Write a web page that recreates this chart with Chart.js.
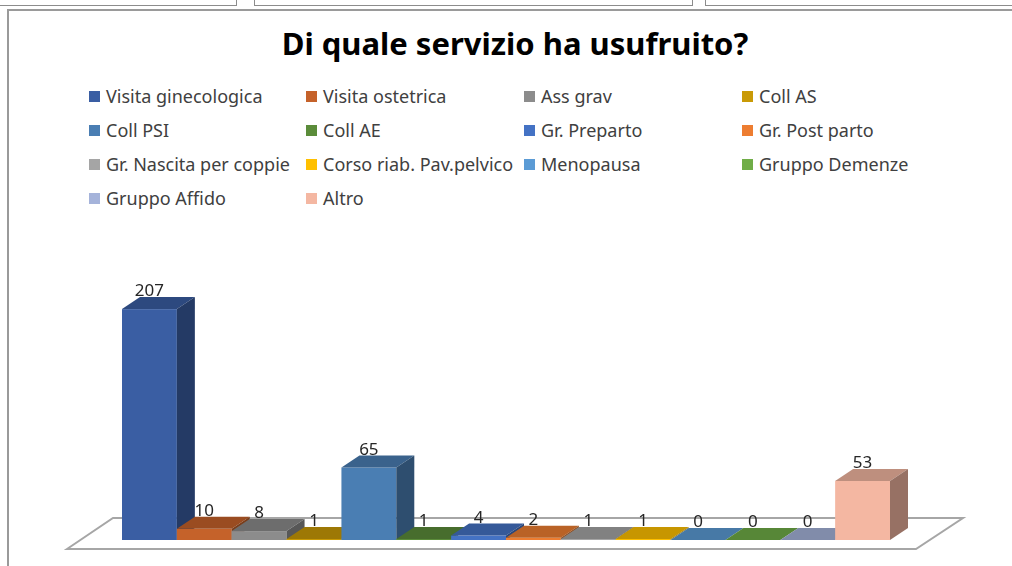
<!DOCTYPE html>
<html>
<head>
<meta charset="utf-8">
<script src="https://cdn.jsdelivr.net/npm/chart.js@4/dist/chart.umd.min.js"></script>
<style>
  body { margin: 0; width: 1012px; height: 566px; overflow: hidden; background: #fff; font-family: "Noto Sans", sans-serif; }
  .strip { position: absolute; top: -10px; height: 14px; border: 1px solid #8c8c8c; }
  #frame { position: absolute; left: 7px; top: 9px; width: 1020px; height: 600px; border: 2px solid #9a9a9a; }
  #title { position: absolute; left: 0; width: 1030px; top: 22px; text-align: center; font-weight: bold; font-size: 31px; color: #000; }
  .leg { position: absolute; font-size: 18px; color: #404040; white-space: nowrap; line-height: 22px; }
  .leg span { display: inline-block; width: 11px; height: 11px; margin-right: 6px; vertical-align: 1px; }
  #c { position: absolute; left: 0; top: 0; }
</style>
</head>
<body>
<div class="strip" style="left:-2px;width:237px"></div>
<div class="strip" style="left:254px;width:437px"></div>
<div class="strip" style="left:705px;width:320px"></div>
<div id="frame"></div>
<div id="title">Di quale servizio ha usufruito?</div>
<div id="legend"></div>
<canvas id="c" width="1012" height="566"></canvas>
<script>
const labels = ['Visita ginecologica', 'Visita ostetrica', 'Ass grav', 'Coll AS', 'Coll PSI', 'Coll AE',
  'Gr. Preparto', 'Gr. Post parto', 'Gr. Nascita per coppie', 'Corso riab. Pav.pelvico', 'Menopausa',
  'Gruppo Demenze', 'Gruppo Affido', 'Altro'];
const values = [207, 10, 8, 1, 65, 1, 4, 2, 1, 1, 0, 0, 0, 53];
const colors = ['#3a5ea3', '#c5622a', '#8c8c8c', '#c99a06', '#4a7eb3', '#5b8c3a', '#4472c4',
  '#ed7d31', '#a5a5a5', '#ffc000', '#5b9bd5', '#70ad47', '#a5b3da', '#f4b7a2'];

// legend: 4 columns, html
const colX = [89, 306, 524, 742];
const rowY = [85, 119, 153, 187];
let legHtml = '';
labels.forEach((l, i) => {
  legHtml += '<div class="leg" style="left:' + colX[i % 4] + 'px;top:' + rowY[Math.floor(i / 4)] + 'px">' +
    '<span style="background:' + colors[i] + '"></span>' + l + '</div>';
});
document.getElementById('legend').innerHTML = legHtml;

function shade(hex, f) {
  const n = parseInt(hex.slice(1), 16);
  const r = Math.round(((n >> 16) & 255) * f), g = Math.round(((n >> 8) & 255) * f), b = Math.round((n & 255) * f);
  return 'rgb(' + r + ',' + g + ',' + b + ')';
}

const DX = 18, DY = 12;

const bars3d = {
  id: 'bars3d',
  beforeDatasetsDraw(chart) {
    const ctx = chart.ctx;
    const a = chart.chartArea;
    const base = chart.scales.y.getPixelForValue(0);
    // floor
    ctx.save();
    ctx.beginPath();
    ctx.moveTo(a.left - 55, base + 9);
    ctx.lineTo(a.left - 9, base - 22);
    ctx.lineTo(a.right + 73, base - 22);
    ctx.lineTo(a.right + 26, base + 9);
    ctx.closePath();
    ctx.fillStyle = '#fff';
    ctx.fill();
    ctx.strokeStyle = '#a6a6a6';
    ctx.lineWidth = 2;
    ctx.stroke();
    // bars, left to right
    chart.data.datasets.forEach((ds, i) => {
      const el = chart.getDatasetMeta(i).data[0];
      const p = el.getProps(['x', 'y', 'base', 'width'], true);
      const l = p.x - p.width / 2, r = p.x + p.width / 2;
      const col = colors[i];
      ctx.fillStyle = col;
      ctx.fillRect(l, p.y, r - l, p.base - p.y);
      ctx.beginPath();
      ctx.moveTo(l, p.y); ctx.lineTo(l + DX, p.y - DY); ctx.lineTo(r + DX, p.y - DY); ctx.lineTo(r, p.y);
      ctx.closePath();
      ctx.fillStyle = shade(col, 0.78);
      ctx.fill();
      ctx.beginPath();
      ctx.moveTo(r, p.y); ctx.lineTo(r + DX, p.y - DY); ctx.lineTo(r + DX, p.base - DY); ctx.lineTo(r, p.base);
      ctx.closePath();
      ctx.fillStyle = shade(col, 0.62);
      ctx.fill();
    });
    // value labels
    ctx.fillStyle = '#262626';
    ctx.font = '17px "Noto Sans"';
    ctx.textAlign = 'center';
    ctx.textBaseline = 'bottom';
    chart.data.datasets.forEach((ds, i) => {
      const el = chart.getDatasetMeta(i).data[0];
      ctx.fillText(String(ds.data[0]), el.x, el.y - DY + 3);
    });
    ctx.restore();
    return false;
  }
};

new Chart(document.getElementById('c'), {
  type: 'bar',
  data: {
    labels: [''],
    datasets: labels.map((l, i) => ({
      label: l,
      data: [values[i]],
      backgroundColor: colors[i]
    }))
  },
  options: {
    responsive: false,
    animation: false,
    layout: { padding: { left: 122, right: 122, top: 250, bottom: 26 } },
    datasets: { bar: { categoryPercentage: 1, barPercentage: 1 } },
    plugins: { legend: { display: false }, tooltip: { enabled: false } },
    scales: {
      x: { display: false },
      y: { display: false, min: 0, max: 260 }
    }
  },
  plugins: [bars3d]
});
</script>
</body>
</html>
